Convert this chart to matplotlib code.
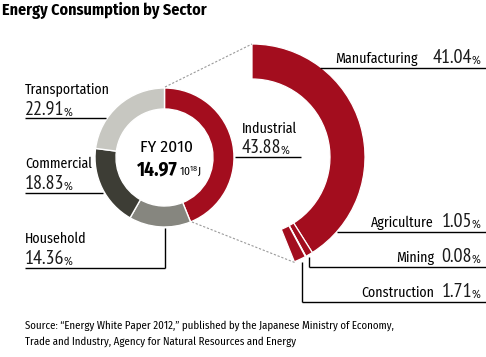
import matplotlib
matplotlib.use("Agg")
import matplotlib.pyplot as plt
import numpy as np

# data
year_label = "FY 2010"
total_energy = 14.97  # 10^18 J
sectors = ["Industrial", "Household", "Commercial", "Transportation"]
sector_share = [43.88, 14.36, 18.83, 22.91]
industry_parts = ["Manufacturing", "Agriculture", "Mining", "Construction"]
industry_share = [41.04, 1.05, 0.08, 1.71]

RED = "#A30D1E"
sector_colors = [RED, "#86867F", "#3D3D35", "#C7C7C1"]
FONT = ["Fira Sans Condensed", "DejaVu Sans"]
NUM_FONT = ["PT Sans Narrow", "DejaVu Sans"]

plt.rcParams["font.family"] = FONT
plt.rcParams["mathtext.fontset"] = "custom"
plt.rcParams["mathtext.rm"] = "Fira Sans Condensed"

fig = plt.figure(figsize=(4.86, 3.57), dpi=100)
ax = fig.add_axes([0, 0, 1, 1])

# y axis runs downward (pixel-like), so counterclock=True draws clockwise on screen
ax.pie(sector_share, center=(164.5, 157.5), radius=69.5, startangle=-90,
       counterclock=True, colors=sector_colors,
       wedgeprops=dict(width=21, edgecolor="white", linewidth=1.0))
ax.pie(np.array(industry_share) / 100, normalize=False, center=(252, 157),
       radius=113, startangle=-90, counterclock=True, colors=[RED] * 4,
       wedgeprops=dict(width=35, edgecolor="white", linewidth=0.9))

ax.set_xlim(0, 486)
ax.set_ylim(357, 0)
ax.set_aspect("equal")
ax.axis("off")

# dotted connectors between the two rings
dot = dict(color="#9A9A9A", lw=0.8, ls=(0, (2, 1.6)))
ax.plot([165, 252], [87, 44], **dot)
ax.plot([192, 296], [222, 263], **dot)

line = dict(color="black", lw=1.0, solid_capstyle="butt")


def value_label(x, y, value, ha="left", size=14.5):
    t = ax.text(x, y, f"{value:.2f}", fontsize=size, family=NUM_FONT,
                color="#1a1a1a", ha=ha, va="baseline")
    ax.annotate("%", xy=(1, 0), xycoords=t, xytext=(-0.6, 0.5),
                textcoords="offset points", fontsize=8.5, color="#1a1a1a",
                ha="left", va="bottom")
    return t


# left side labels
left_pos = {"Transportation": (93, 115, 118, 106),
            "Commercial": (168, 189, 193, 103),
            "Household": (243, 264, 268, 165)}
for name, share in zip(sectors, sector_share):
    if name not in left_pos:
        continue
    yn, yv, yl, xend = left_pos[name]
    ax.text(25, yn, name, fontsize=10, va="baseline")
    value_label(24.5, yv, share)
    ax.plot([25, xend], [yl, yl], **line)
ax.plot([165, 165], [268, 228], **line)

# industrial label between the rings
ax.text(242, 133, sectors[0], fontsize=10, va="baseline")
value_label(241.5, 153, sector_share[0])
ax.plot([235, 301], [157, 157], **line)

# centre of the small ring
ax.text(166, 152, year_label, fontsize=12.5, ha="center", va="baseline")
t = ax.text(178, 175, f"{total_energy:.2f}", fontsize=14, fontweight="bold",
            ha="right", va="baseline")
ax.annotate(r"$\mathregular{10^{18}}$J", xy=(1, 0), xycoords=t, xytext=(1.0, 0),
            textcoords="offset points", fontsize=8.3, ha="left", va="bottom")

# right side labels for the industrial breakdown
right_pos = {"Manufacturing": (63, 68, 320, None, 418),
             "Agriculture": (227, 232, 337, None, 434),
             "Mining": (262, 267, 309, 257, 434),
             "Construction": (297, 302, 302, 262, 434)}
for name, share in zip(industry_parts, industry_share):
    yb, yl, xs, ytop, xname = right_pos[name]
    ax.text(xname, yb, name, fontsize=10, ha="right", va="baseline")
    value_label(472, yb, share, ha="right")
    ax.plot([xs, 486], [yl, yl], **line)
    if ytop is not None:
        ax.plot([xs, xs], [ytop, yl], **line)

ax.text(2, 15, "Energy Consumption by Sector", fontsize=11.5, fontweight="bold",
        va="baseline")
ax.text(25, 329, "Source: \u201cEnergy White Paper 2012,\u201d published by the "
        "Japanese Ministry of Economy,", fontsize=7.8, va="baseline")
ax.text(25, 345, "Trade and Industry, Agency for Natural Resources and Energy",
        fontsize=7.8, va="baseline")

fig.savefig("out.png", dpi=100)
